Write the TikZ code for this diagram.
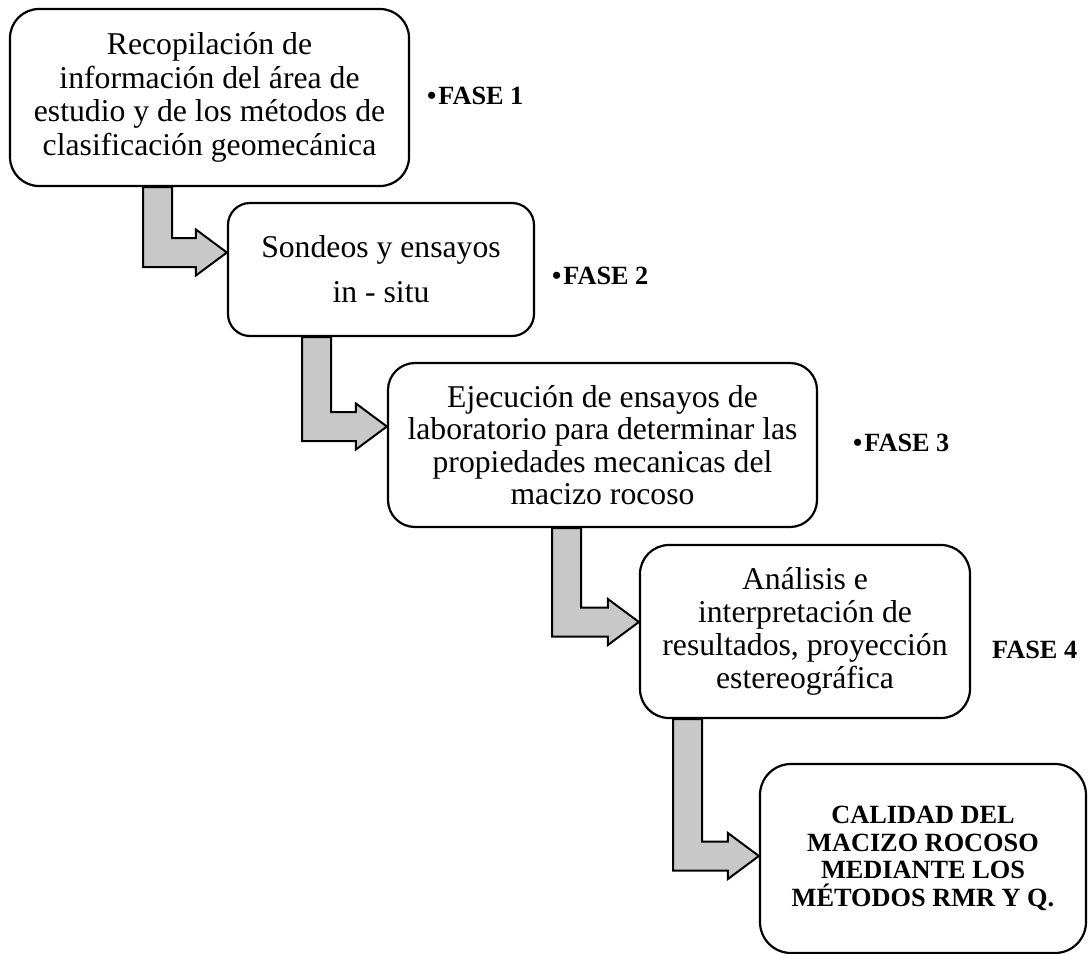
\documentclass[tikz,border=0pt]{standalone}
\usepackage{fontspec}
\setmainfont{Liberation Serif}
\usetikzlibrary{calc}
\definecolor{arrgray}{RGB}{200,200,200}
\tikzset{
  box/.style={draw=black, line width=2.2pt, fill=white, align=center, inner sep=0pt,
    font=\fontsize{31.7}{32.5}\selectfont},
  bentarr/.style={draw=black, line width=2pt, fill=arrgray, line join=miter},
  fase/.style={anchor=base west, inner sep=0pt, font=\fontsize{26.3}{28}\selectfont\bfseries},
}
% #1 source node, #2 target node, #3 stem left x, #4 tip y
\newcommand\bentarrow[4]{%
  \draw[bentarr] (#3,0 |- #1.south) -- ++(29,0) -- ({#3+29},{#4-14.5})
    -- ($(#2.west |- 0,#4)+(-31,-14.5)$) -- ++(0,-8.5) -- (#2.west |- 0,#4)
    -- ($(#2.west |- 0,#4)+(-31,23)$) -- ++(0,-8.5) -- ({#3},{#4+14.5}) -- cycle;
}
\begin{document}
\begin{tikzpicture}[x=1pt,y=-1pt]
\useasboundingbox (0,0) rectangle (1088,954);

\node[box, minimum width=399pt, minimum height=177pt, rounded corners=29pt,
  font=\fontsize{31.7}{33.5}\selectfont] (b1) at (209.5,97.5)
  {Recopilación de\\información del área de\\estudio y de los métodos de\\clasificación geomecánica};
\node[box, minimum width=306pt, minimum height=133pt, rounded corners=22pt] (b2) at (381,269.5)
  {Sondeos y ensayos\\[12.5pt]in - situ};
\node[box, minimum width=429pt, minimum height=164pt, rounded corners=27pt] (b3) at (602.5,445)
  {Ejecución de ensayos de\\laboratorio para determinar las\\propiedades mecanicas del\\macizo rocoso};
\node[box, minimum width=330pt, minimum height=173pt, rounded corners=29pt,
  font=\fontsize{31.7}{33}\selectfont] (b4) at (805,631.5)
  {Análisis e\\interpretación de\\resultados, proyección\\estereográfica};
\node[box, minimum width=326pt, minimum height=189pt, rounded corners=31pt,
  font=\fontsize{26.3}{27.5}\selectfont\bfseries] (b5) at (923,858.5)
  {CALIDAD DEL\\MACIZO ROCOSO\\MEDIANTE LOS\\MÉTODOS RMR Y Q.};

\bentarrow{b1}{b2}{143}{252.5}
\bentarrow{b2}{b3}{302}{426.5}
\bentarrow{b3}{b4}{552}{622}
\bentarrow{b4}{b5}{673}{856}

\node[fase] (f1) at (427,104) {•\kern2ptFASE 1};
\node[fase] (f2) at (552,284) {•\kern2ptFASE 2};
\node[fase] (f3) at (853,451) {•\kern2ptFASE 3};
\node[fase] (f4) at (992,658) {FASE 4};
\end{tikzpicture}
\end{document}
